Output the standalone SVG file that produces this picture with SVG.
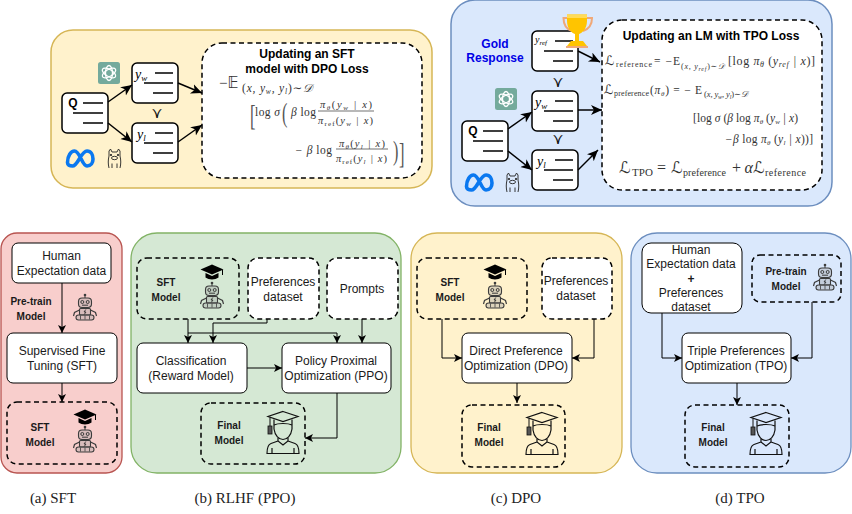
<svg xmlns="http://www.w3.org/2000/svg" width="852" height="514" viewBox="0 0 852 514">
<style>
text{font-family:"Liberation Sans",Arial,sans-serif;fill:#1a1a1a;text-anchor:middle}
.l{font-size:12px}
.b{font-size:10px;font-weight:700}
.h{font-size:12px;font-weight:700;fill:#000}
.g{font-size:12px;font-weight:700;fill:#0000e6}
.cap{font-family:"Liberation Serif",serif;font-size:15px;fill:#222}
.m{font-family:"Liberation Serif","DejaVu Serif",serif;font-size:11.5px;font-style:italic;fill:#333;text-anchor:start}
.r{font-style:normal}
.d{font-family:"Liberation Serif",serif;font-style:normal;fill:#555;text-anchor:start}
.sym{font-family:"DejaVu Sans",sans-serif;font-size:13px;fill:#111}
.box{fill:#fff;stroke:#000;stroke-width:1}
.dash{fill:none;stroke:#000;stroke-width:1.5;stroke-dasharray:5 3.5}
.dw{fill:#fff;stroke:#000;stroke-width:1.5;stroke-dasharray:5 3.5}
.doc{fill:#fff;stroke:#000;stroke-width:1.5}
.dl{stroke:#000;stroke-width:1.5;fill:none}
.c{fill:none;stroke:#000;stroke-width:1;marker-end:url(#a)}
.t{fill:none;stroke:#000;stroke-width:1.5;marker-end:url(#A)}
.rob{fill:#9a9a9a;fill-opacity:.35;stroke:#3c3c3c;stroke-width:1.1}
.per{fill:none;stroke:#111;stroke-width:1.2}
</style>
<defs>
<marker id="a" markerWidth="10" markerHeight="10" refX="8" refY="4" orient="auto" markerUnits="userSpaceOnUse"><path d="M0 0L8 4L0 8L2 4Z" fill="#000"/></marker>
<marker id="A" markerWidth="14" markerHeight="12" refX="11" refY="5" orient="auto" markerUnits="userSpaceOnUse"><path d="M0 0L11 5L0 10L3 5Z" fill="#000"/></marker>
<g id="doc">
<rect class="doc" width="46" height="40" rx="5"/>
<path class="dl" d="M23 10H41M12 20H41M21 30H41"/>
</g>
<g id="q">
<rect class="doc" width="46" height="40" rx="5"/>
<path class="dl" d="M21 10H41M11 20H41M21 30H41"/>
</g>
<g id="robot">
<path d="M0-12V-9" stroke="#3c3c3c" fill="none"/><circle cy="-12" r="1.300" fill="#3c3c3c"/>
<rect class="rob" x="-6.500" y="-9" width="13" height="9.500" rx="3.500"/>
<circle cx="-2.700" cy="-5" r="1.500" fill="none" stroke="#3c3c3c"/><circle cx="2.700" cy="-5" r="1.500" fill="none" stroke="#3c3c3c"/>
<path d="M-3-1.800H3" stroke="#3c3c3c" fill="none"/>
<rect class="rob" x="-5.500" y="1.500" width="11" height="6.500" rx="1"/>
<path d="M-5.500 3L-10.500 5.500L-11.500 9M5.500 3L10.500 5.500L11.500 9" fill="none" stroke="#3c3c3c" stroke-width="1.200"/>
<path d="M.8 2.500L-1 5H1L-.8 7.500" fill="none" stroke="#222" stroke-width=".8"/>
<rect class="rob" x="-9" y="8" width="18" height="5" rx="2.500"/>
<path d="M-4.500 8.500V12.500M0 8.500V12.500M4.500 8.500V12.500" stroke="#3c3c3c" fill="none" stroke-width=".8"/>
</g>
<g id="cap">
<path d="M0-7.500L11.500-2.500L0 2.500L-11.500-2.500Z" fill="#000"/>
<path d="M-6.500 1V5.500C-3 8 3 8 6.500 5.500V1L0 4Z" fill="#000"/>
<path d="M10.500-2V3" stroke="#000" fill="none"/>
</g>
<g id="person">
<path class="per" d="M0-21.500L15-16.500L0-11.500L-15-16.500Z"/>
<path class="per" d="M-9-13.500V-4C-8 3 -4 6.500 0 6.500C4 6.500 8 3 9-4V-13.500"/>
<path class="per" d="M-9-8C-5-10 5-10 9-8"/>
<path d="M-13-15.500V-6" stroke="#111" fill="none"/><rect x="-15" y="-7" width="4" height="8" fill="#555" stroke="#111" stroke-width=".8"/>
<path class="per" d="M-5 5V8L0 12L5 8V5M-5 8L-12 10.500C-15 11.500-16 14-16 20.500H16C16 14 15 11.500 12 10.500L5 8"/>
<path class="per" d="M-11 20.500V15M11 20.500V15"/>
</g>
<g id="gpt">
<rect width="22" height="22" rx="2.500" fill="#74aa9c"/>
<g fill="none" stroke="#fff" stroke-width="1.300">
<ellipse cx="11" cy="11" rx="3.500" ry="7.500"/>
<ellipse cx="11" cy="11" rx="3.500" ry="7.500" transform="rotate(60 11 11)"/>
<ellipse cx="11" cy="11" rx="3.500" ry="7.500" transform="rotate(120 11 11)"/>
</g>
</g>
<path id="meta" d="M2.500 13.500C2.500 7 6 2 9.500 2C15 2 17 17 22 17C26 17 28 14 28 10C28 6 26 2 22 2C16 2 13 17 7.500 17C4.500 17 2.500 16 2.500 13.500Z" fill="none" stroke="#0a78f0" stroke-width="3.600"/>
<g id="llama" fill="none" stroke="#222" stroke-width=".9">
<path d="M2 7V2L3.500 0L5 3H10L11.500 0L13 2V7C14 11 14 15 13 19M2 7C1 11 1 15 2 19"/>
<ellipse cx="7.500" cy="9" rx="3" ry="1.700"/>
<circle cx="4" cy="6" r=".7" fill="#222"/><circle cx="11" cy="6" r=".7" fill="#222"/>
<path d="M5 19V14.500M10 19V14.500"/>
</g>
</defs>

<g id="panel-dpo-loss">
<rect x="51" y="30" width="381" height="158" rx="22" fill="#fff2cc" stroke="#d6b656" stroke-width="1.500"/>
<rect class="dw" x="202" y="43" width="220" height="135" rx="20"/>
<text class="h" x="307" y="58">Updating an SFT</text>
<text class="h" x="307" y="73">model with DPO Loss</text>
<text class="m r" x="219" y="88" style="font-size:15px">−<tspan font-family="DejaVu Sans">𝔼</tspan></text>
<text class="m" x="242" y="92" textLength="70" style="font-size:11.500px"><tspan class="r">(</tspan>x, y<tspan dy="2" style="font-size:7.500px">w</tspan><tspan dy="-2">, y</tspan><tspan dy="2" style="font-size:7.500px">l</tspan><tspan dy="-2" class="r">)∼</tspan>𝒟</text>
<text class="d" transform="translate(250 125) scale(.55 1)" style="font-size:30px">[</text>
<text class="m" x="255" y="116" textLength="25"><tspan class="r">log</tspan> σ</text>
<text class="d" transform="translate(282 122) scale(.6 1)" style="font-size:27px">(</text>
<text class="m" x="291" y="116" textLength="25">β <tspan class="r">log</tspan></text>
<text class="m" x="320" y="108" textLength="52" style="font-size:10.500px">π<tspan dy="2" style="font-size:7px">θ</tspan><tspan dy="-2" class="r">(</tspan>y<tspan dy="2" style="font-size:7px">w</tspan><tspan dy="-2"> | x</tspan><tspan class="r">)</tspan></text>
<path d="M318 111H374" stroke="#333" stroke-width=".7"/>
<text class="m" x="318" y="124" textLength="55" style="font-size:10.500px">π<tspan dy="2" class="r" style="font-size:7px">ref</tspan><tspan dy="-2" class="r">(</tspan>y<tspan dy="2" style="font-size:7px">w</tspan><tspan dy="-2"> | x</tspan><tspan class="r">)</tspan></text>
<text class="m" x="295" y="154" textLength="37">− β <tspan class="r">log</tspan></text>
<text class="m" x="339" y="147" textLength="46" style="font-size:10.500px">π<tspan dy="2" style="font-size:7px">θ</tspan><tspan dy="-2" class="r">(</tspan>y<tspan dy="2" style="font-size:7px">l</tspan><tspan dy="-2"> | x</tspan><tspan class="r">)</tspan></text>
<path d="M336 149H388" stroke="#333" stroke-width=".7"/>
<text class="m" x="336" y="162" textLength="51" style="font-size:10.500px">π<tspan dy="2" class="r" style="font-size:7px">ref</tspan><tspan dy="-2" class="r">(</tspan>y<tspan dy="2" style="font-size:7px">l</tspan><tspan dy="-2"> | x</tspan><tspan class="r">)</tspan></text>
<text class="d" transform="translate(393 160) scale(.6 1)" style="font-size:27px">)</text>
<text class="d" transform="translate(399 163) scale(.55 1)" style="font-size:30px">]</text>
</g>
<g id="dpo-icons">
<use href="#gpt" x="98" y="62"/>
<use href="#meta" x="65" y="149"/>
<use href="#llama" x="107" y="149"/>
</g>
<g id="dpo-q"><use href="#q" x="62" y="93"/><text x="73" y="107" style="font-size:12px;font-weight:700;fill:#000">Q</text></g>
<g id="dpo-yw"><use href="#doc" x="132" y="63"/><text class="m" x="135" y="79" style="font-size:14px;fill:#000">y<tspan dy="2" style="font-size:9px">w</tspan></text></g>
<g id="dpo-yl"><use href="#doc" x="132" y="123"/><text class="m" x="137" y="139" style="font-size:14px;fill:#000">y<tspan dy="2" style="font-size:9px">l</tspan></text></g>
<text class="sym" x="157" y="118" style="font-size:15px">⋎</text>

<g id="panel-tpo-loss">
<rect x="451" y="0" width="381" height="206" rx="24" fill="#dae8fc" stroke="#6c8ebf" stroke-width="1.500"/>
<rect class="dw" x="602" y="20" width="220" height="170" rx="20"/>
<text class="h" x="711" y="40">Updating an LM with TPO Loss</text>
<text class="g" x="495" y="48">Gold</text>
<text class="g" x="495" y="62">Response</text>
<text class="m r" x="605" y="65" style="font-size:13px"><tspan font-family="DejaVu Sans">ℒ</tspan></text>
<text class="m r" x="616" y="67" textLength="36" style="font-size:8px">reference</text>
<text class="m r" x="654" y="65" textLength="26">= −E</text>
<text class="m" x="681" y="69" textLength="43" style="font-size:8px"><tspan class="r">(</tspan>x, y<tspan style="font-size:6px" dy="1.500">ref</tspan><tspan dy="-1.500" class="r">)∼</tspan>𝒟</text>
<text class="m" x="728" y="65" textLength="87" style="font-size:12px"><tspan class="r">[log</tspan> π<tspan dy="2" style="font-size:8px">θ</tspan><tspan dy="-2" class="r"> (</tspan>y<tspan dy="2" style="font-size:8px">ref</tspan><tspan dy="-2"> | x</tspan><tspan class="r">)]</tspan></text>
<text class="m r" x="604" y="94" style="font-size:13px"><tspan font-family="DejaVu Sans">ℒ</tspan></text>
<text class="m r" x="614" y="96" textLength="35" style="font-size:8px">preference</text>
<text class="m" x="650" y="94" textLength="52"><tspan class="r">(</tspan>π<tspan dy="2" style="font-size:7px">θ</tspan><tspan dy="-2" class="r">) = − E</tspan></text>
<text class="m" x="704" y="97" textLength="44" style="font-size:8.500px"><tspan class="r">(</tspan>x, y<tspan style="font-size:6px" dy="1.500">w</tspan><tspan dy="-1.500">, y</tspan><tspan style="font-size:6px" dy="1.500">l</tspan><tspan dy="-1.500" class="r">)∼</tspan>𝒟</text>
<text class="m" x="693" y="122" textLength="105"><tspan class="r">[log</tspan> σ <tspan class="r">(</tspan>β <tspan class="r">log</tspan> π<tspan dy="2" style="font-size:7px">θ</tspan><tspan dy="-2" class="r"> (</tspan>y<tspan dy="2" style="font-size:7px">w</tspan><tspan dy="-2"> | x</tspan><tspan class="r">)</tspan></text>
<text class="m" x="725" y="143" textLength="88">−β <tspan class="r">log</tspan> π<tspan dy="2" style="font-size:7px">θ</tspan><tspan dy="-2" class="r"> (</tspan>y<tspan dy="2" style="font-size:7px">l</tspan><tspan dy="-2"> | x</tspan><tspan class="r">))]</tspan></text>
<text class="m r" x="619" y="173" style="font-size:16px"><tspan font-family="DejaVu Sans">ℒ</tspan></text>
<text class="m r" x="632" y="176" textLength="21" style="font-size:11px">TPO</text>
<text class="m r" x="657" y="173" style="font-size:16px">=</text>
<text class="m r" x="671" y="173" style="font-size:16px"><tspan font-family="DejaVu Sans">ℒ</tspan></text>
<text class="m r" x="683" y="176" textLength="43" style="font-size:10px">preference</text>
<text class="m" x="732" y="173" textLength="21" style="font-size:16px"><tspan class="r">+</tspan> α</text>
<text class="m r" x="753" y="173" style="font-size:16px"><tspan font-family="DejaVu Sans">ℒ</tspan></text>
<text class="m r" x="765" y="176" textLength="41" style="font-size:10px">reference</text>
</g>
<g id="tpo-icons">
<use href="#gpt" x="495" y="88"/>
<use href="#meta" x="464" y="173"/>
<use href="#llama" x="505" y="173"/>
</g>
<g id="tpo-yref"><use href="#doc" x="532" y="31"/><text class="m" x="535" y="43" style="font-size:10px;fill:#000">y<tspan dy="1.500" style="font-size:7px">ref</tspan></text></g>
<g id="tpo-yw"><use href="#doc" x="532" y="91"/><text class="m" x="535" y="107" style="font-size:14px;fill:#000">y<tspan dy="2" style="font-size:9px">w</tspan></text></g>
<g id="tpo-yl"><use href="#doc" x="532" y="150"/><text class="m" x="537" y="166" style="font-size:14px;fill:#000">y<tspan dy="2" style="font-size:9px">l</tspan></text></g>
<g id="tpo-q"><use href="#q" x="462" y="121"/><text x="473" y="135" style="font-size:12px;font-weight:700;fill:#000">Q</text></g>
<text class="sym" x="558" y="87" style="font-size:15px">⋎</text>
<text class="sym" x="558" y="144" style="font-size:15px">⋎</text>
<g id="trophy">
<path d="M568 18H563.500C563.500 25 566 29 572 31M586 18H592C592 25 589 29 583 31" fill="none" stroke="#f0a878" stroke-width="2"/>
<path d="M567 14.500H587V21C587 29 582 33 579 34V41H575V34C572 33 567 29 567 21Z" fill="#ffc400"/>
<path d="M567 14.500H587V18H567Z" fill="#ffdb58"/>
<path d="M571 41H583L587 46H567Z" fill="#ffc400"/>
<rect x="566" y="46" width="22" height="2" fill="#f0a878"/>
</g>

<g id="panel-a"><rect x="1" y="233" width="121" height="240" rx="16" fill="#f8cecc" stroke="#b85450" stroke-width="1.300"/></g>
<g id="panel-b"><rect x="131" y="233" width="270" height="240" rx="26" fill="#d5e8d4" stroke="#82b366" stroke-width="1.300"/></g>
<g id="panel-c"><rect x="411" y="233" width="211" height="240" rx="26" fill="#fff2cc" stroke="#d6b656" stroke-width="1.300"/></g>
<g id="panel-d"><rect x="631" y="233" width="220" height="240" rx="26" fill="#dae8fc" stroke="#6c8ebf" stroke-width="1.300"/></g>

<g id="connectors">
<path class="t" d="M108 102L132 85"/>
<path class="t" d="M108 123L132 142"/>
<path class="t" d="M178 83L202 93"/>
<path class="t" d="M178 142L202 125"/>
<path class="t" d="M578 51L600 62"/>
<path class="t" d="M578 110L602 110"/>
<path class="t" d="M508 129L532 112"/>
<path class="t" d="M508 151L532 170"/>
<path class="t" d="M578 170L598 150"/>
<path class="c" d="M62 283V333"/>
<path class="c" d="M62 383V402"/>
<path class="c" d="M188 319V343"/>
<path class="c" d="M188 333H337V343"/>
<path class="c" d="M267 319V323H213V343"/>
<path class="c" d="M362 319V343"/>
<path class="c" d="M247 368H282"/>
<path class="c" d="M337 393V438H305"/>
<path class="c" d="M442 319V358H462"/>
<path class="c" d="M594 319V358H572"/>
<path class="c" d="M517 383V403"/>
<path class="c" d="M662 313V358H682"/>
<path class="c" d="M812 302V358H791"/>
<path class="c" d="M737 383V405"/>
</g>

<g id="a-human"><rect class="box" x="12" y="243" width="99" height="40" rx="6"/><text class="l" x="61.500" y="260">Human</text><text class="l" x="61.500" y="275">Expectation data</text></g>
<g id="a-pretrain"><text class="b" x="31" y="305">Pre-train</text><text class="b" x="31" y="320">Model</text><use href="#robot" x="85" y="307"/></g>
<g id="a-sft"><rect class="box" x="7" y="333" width="110" height="50" rx="6"/><text class="l" x="62" y="355">Supervised Fine</text><text class="l" x="62" y="370">Tuning (SFT)</text></g>
<g id="a-model"><rect class="dash" x="7" y="402" width="110" height="62" rx="10"/><text class="b" x="40" y="431">SFT</text><text class="b" x="40" y="446">Model</text><use href="#cap" x="85" y="417"/><use href="#robot" x="85" y="439"/></g>

<g id="b-model"><rect class="dash" x="137" y="258" width="102" height="61" rx="10"/><text class="b" x="166" y="286">SFT</text><text class="b" x="166" y="301">Model</text><use href="#cap" x="212" y="272"/><use href="#robot" x="212" y="295"/></g>
<g id="b-pref"><rect class="dw" x="248" y="258" width="71" height="61" rx="10"/><text class="l" x="283" y="286">Preferences</text><text class="l" x="283" y="301">dataset</text></g>
<g id="b-prompts"><rect class="dw" x="327" y="258" width="71" height="61" rx="10"/><text class="l" x="362" y="293">Prompts</text></g>
<g id="b-class"><rect class="box" x="137" y="343" width="110" height="50" rx="6"/><text class="l" x="191" y="365">Classification</text><text class="l" x="191" y="380">(Reward Model)</text></g>
<g id="b-ppo"><rect class="box" x="282" y="343" width="109" height="50" rx="6"/><text class="l" x="336" y="365">Policy Proximal</text><text class="l" x="336" y="380">Optimization (PPO)</text></g>
<g id="b-final"><rect class="dash" x="201" y="403" width="104" height="61" rx="10"/><text class="b" x="229" y="429">Final</text><text class="b" x="229" y="444">Model</text><use href="#person" x="283" y="433"/></g>

<g id="c-model"><rect class="dash" x="417" y="258" width="110" height="61" rx="10"/><text class="b" x="450" y="286">SFT</text><text class="b" x="450" y="301">Model</text><use href="#cap" x="495" y="272"/><use href="#robot" x="495" y="295"/></g>
<g id="c-pref"><rect class="dw" x="542" y="258" width="70" height="61" rx="10"/><text class="l" x="576" y="285">Preferences</text><text class="l" x="576" y="300">dataset</text></g>
<g id="c-dpo"><rect class="box" x="462" y="333" width="110" height="50" rx="6"/><text class="l" x="516" y="355">Direct Preference</text><text class="l" x="516" y="370">Optimization (DPO)</text></g>
<g id="c-final"><rect class="dash" x="462" y="405" width="103" height="62" rx="10"/><text class="b" x="489" y="431">Final</text><text class="b" x="489" y="446">Model</text><use href="#person" x="542" y="434"/></g>

<g id="d-data"><rect class="box" x="642" y="243" width="100" height="70" rx="9"/><text class="l" x="691" y="254">Human</text><text class="l" x="691" y="268">Expectation data</text><text class="l" x="691" y="283" style="font-weight:700">+</text><text class="l" x="691" y="297">Preferences</text><text class="l" x="691" y="311">dataset</text></g>
<g id="d-pretrain"><rect class="dash" x="752" y="255" width="89" height="47" rx="8"/><text class="b" x="786" y="275">Pre-train</text><text class="b" x="786" y="290">Model</text><use href="#robot" x="825" y="277"/></g>
<g id="d-tpo"><rect class="box" x="682" y="333" width="109" height="50" rx="6"/><text class="l" x="736" y="355">Triple Preferences</text><text class="l" x="736" y="370">Optimization (TPO)</text></g>
<g id="d-final"><rect class="dash" x="685" y="405" width="104" height="62" rx="10"/><text class="b" x="713" y="431">Final</text><text class="b" x="713" y="446">Model</text><use href="#person" x="766" y="434"/></g>

<text class="cap" x="53" y="503">(a) SFT</text>
<text class="cap" x="245" y="503">(b) RLHF (PPO)</text>
<text class="cap" x="516" y="503">(c) DPO</text>
<text class="cap" x="740" y="503">(d) TPO</text>
</svg>
